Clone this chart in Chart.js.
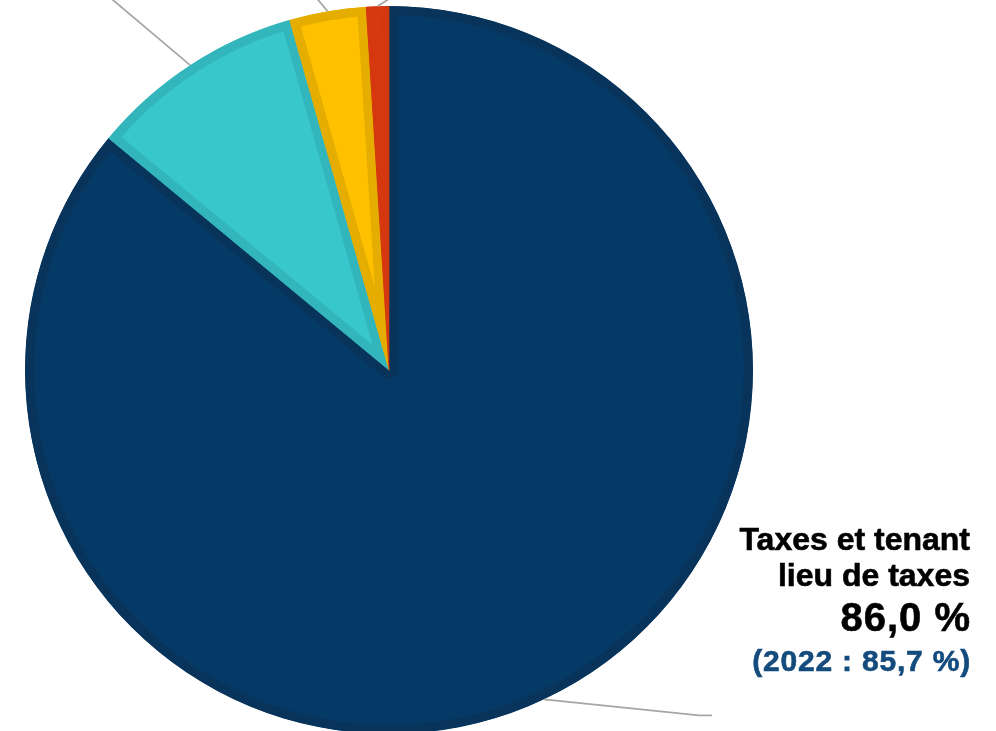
<!DOCTYPE html>
<html>
<head>
<meta charset="utf-8">
<script src="https://cdn.jsdelivr.net/npm/chart.js@4/dist/chart.umd.min.js"></script>
<style>
  html, body { margin: 0; padding: 0; width: 996px; height: 731px; overflow: hidden; background: #fff; }
  #wrap { position: absolute; left: 0; top: 0; width: 996px; height: 740px; }
  .lbl { position: absolute; font-family: "Liberation Sans", Arial, sans-serif; font-weight: 700; text-align: right; white-space: nowrap; line-height: 1; -webkit-text-stroke: 0.6px currentColor; }
</style>
</head>
<body>
<div id="wrap"><canvas id="c"></canvas></div>
<div class="lbl" style="right:26px;top:523px;font-size:32px;color:#000;">Taxes et tenant</div>
<div class="lbl" style="right:26px;top:559px;font-size:32px;color:#000;">lieu de taxes</div>
<div class="lbl" style="right:25px;top:597px;font-size:40px;letter-spacing:1px;color:#000;">86,0 %</div>
<div class="lbl" style="right:25px;top:646px;font-size:30px;letter-spacing:0.8px;color:#134b7d;">(2022 : 85,7 %)</div>
<script>
const categories = ["Taxes et tenant lieu de taxes", "Services rendus", "Transferts", "Autres revenus"];
const shares2023 = [86.0, 9.6, 3.4, 1.0];
const shares2022 = [85.7, null, null, null];

const fillColors = ["#063a66", "#38c7cc", "#ffc000", "#d9390f"];
const edgeColors = ["#08345c", "#33b6bb", "#e5ad00", "#d5370f"];

// leader line shapes (relative offsets from slice outer mid-point)
const leaders = [
  [[155, 16], [168, 16]],
  [[-160, -135]],
  [[-20, -24]],
  [[22, -14]]
];

const leaderPlugin = {
  id: 'leaders',
  afterDatasetsDraw(chart) {
    const ctx = chart.ctx;
    const arcs = chart.getDatasetMeta(0).data;
    ctx.save();
    ctx.strokeStyle = '#a6a6a6';
    ctx.lineWidth = 1.8;
    arcs.forEach((arc, i) => {
      const p = arc.getProps(['x', 'y', 'startAngle', 'endAngle', 'outerRadius'], true);
      const mid = (p.startAngle + p.endAngle) / 2;
      const sx = p.x + Math.cos(mid) * p.outerRadius;
      const sy = p.y + Math.sin(mid) * p.outerRadius;
      ctx.beginPath();
      ctx.moveTo(sx, sy);
      (leaders[i] || []).forEach(o => ctx.lineTo(sx + o[0], sy + o[1]));
      ctx.stroke();
    });
    ctx.restore();
  }
};

new Chart(document.getElementById('c'), {
  type: 'pie',
  data: {
    labels: categories,
    datasets: [{
      data: shares2023,
      backgroundColor: fillColors,
      borderColor: edgeColors,
      borderWidth: 9,
      borderAlign: 'inner'
    }]
  },
  options: {
    responsive: true,
    maintainAspectRatio: false,
    animation: false,
    radius: 364,
    layout: { padding: { left: 25, right: 243, top: 6, bottom: 6 } },
    plugins: { legend: { display: false }, tooltip: { enabled: false } }
  },
  plugins: [leaderPlugin]
});
</script>
</body>
</html>
